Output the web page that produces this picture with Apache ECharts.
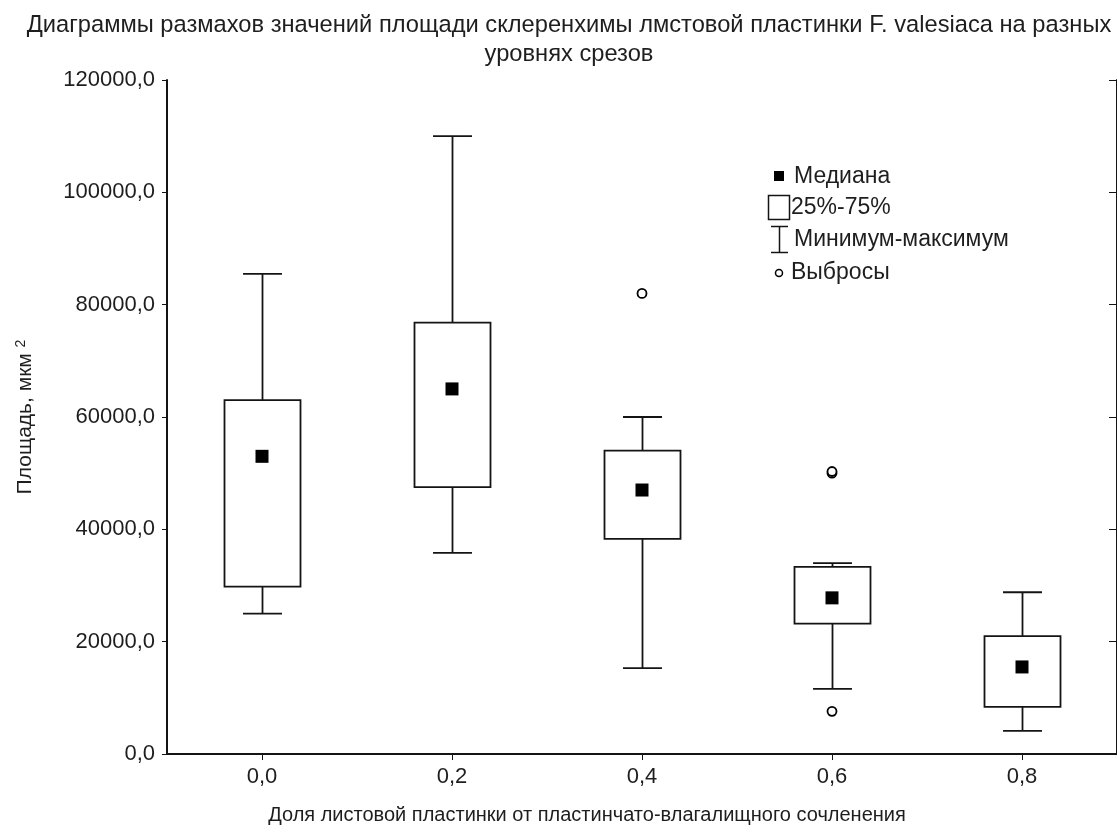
<!DOCTYPE html>
<html><head><meta charset="utf-8">
<script src="https://cdn.jsdelivr.net/npm/echarts@6/dist/echarts.min.js"></script>
<style>html,body{margin:0;padding:0;background:#fff}#c{width:1117px;height:834px}</style>
</head><body><div id="c"></div>
<script>
// ---- data ----
const categories = ['0,0', '0,2', '0,4', '0,6', '0,8'];
const minValues    = [25000, 35800, 15300, 11600, 4100];
const q1Values     = [29800, 47500, 38300, 23200, 8400];
const medianValues = [53000, 65000, 47000, 27800, 15500];
const q3Values     = [63000, 76800, 54000, 33300, 21000];
const maxValues    = [85500, 110000, 60000, 34000, 28800];
const outlierCats   = [2, 3, 3, 3];
const outlierValues = [82000, 50000, 50300, 7600];
const yMin = 0, yMax = 120000, yInterval = 20000;
const titleText = 'Диаграммы размахов значений площади склеренхимы лмстовой пластинки F. valesiaca на разных\nуровнях срезов';
const xName = 'Доля листовой пластинки от пластинчато-влагалищного сочленения';
const legendTexts = ['Медиана', '25%-75%', 'Минимум-максимум', 'Выбросы'];

const FONT = '"Liberation Sans", Arial, sans-serif';
const TXT = '#1e1e1e';
const LN = '#141414';

const boxData = categories.map((_, i) => [i, minValues[i], q1Values[i], medianValues[i], q3Values[i], maxValues[i]]);
const outlierData = outlierCats.map((c, i) => [c, outlierValues[i]]);

const chart = echarts.init(document.getElementById('c'), null, {renderer: 'canvas'});

function fmt(v) { return v.toFixed(1).replace('.', ','); }

const lineStyle = {stroke: LN, lineWidth: 1.8};

const option = {
  backgroundColor: '#fff',
  animation: false,
  grid: {left: 167, top: 80, width: 955, height: 674, containLabel: false},
  xAxis: [{
    type: 'category', data: categories, position: 'bottom', boundaryGap: true,
    axisLine: {show: true, lineStyle: {color: LN, width: 2}},
    axisTick: {show: true, alignWithLabel: true, length: 5, lineStyle: {color: LN, width: 1}},
    axisLabel: {fontSize: 22, color: TXT, fontFamily: FONT, margin: 12},
    splitLine: {show: false}
  }, {
    type: 'category', data: categories, position: 'top', boundaryGap: true,
    axisLine: {show: true, lineStyle: {color: LN, width: 2}},
    axisTick: {show: true, inside: true, alignWithLabel: true, length: 6, lineStyle: {color: LN, width: 1}},
    axisLabel: {show: false}, splitLine: {show: false}
  }],
  yAxis: [{
    type: 'value', min: yMin, max: yMax, interval: yInterval, position: 'left',
    axisLine: {show: true, lineStyle: {color: LN, width: 2}},
    axisTick: {show: true, length: 5, lineStyle: {color: LN, width: 1}},
    axisLabel: {fontSize: 22, color: TXT, fontFamily: FONT, margin: 12, formatter: fmt},
    splitLine: {show: false},
    name: 'Площадь, мкм {sup|2}', nameLocation: 'middle', nameRotate: 90, nameGap: 131,
    nameTextStyle: {fontSize: 21, color: TXT, fontFamily: FONT,
      rich: {sup: {fontSize: 14, color: TXT, fontFamily: FONT, verticalAlign: 'top', lineHeight: 22}}}
  }, {
    type: 'value', min: yMin, max: yMax, interval: yInterval, position: 'right',
    axisLine: {show: true, lineStyle: {color: LN, width: 2}},
    axisTick: {show: true, inside: true, length: 8, lineStyle: {color: LN, width: 1}},
    axisLabel: {show: false}, splitLine: {show: false}
  }],
  series: [{
    type: 'custom', xAxisIndex: 0, yAxisIndex: 0,
    data: boxData,
    encode: {x: 0, y: [1, 2, 3, 4, 5]},
    renderItem: function (params, api) {
      const c = api.value(0);
      const pMin = api.coord([c, api.value(1)]);
      const pQ1 = api.coord([c, api.value(2)]);
      const pQ3 = api.coord([c, api.value(4)]);
      const pMax = api.coord([c, api.value(5)]);
      const band = api.size([1, 0])[0];
      const bw = band * 0.4, cw = band * 0.205;
      const x = Math.round(pMin[0]) + 0.5;
      return {type: 'group', children: [
        {type: 'line', shape: {x1: x, y1: pQ3[1], x2: x, y2: pMax[1]}, style: lineStyle},
        {type: 'line', shape: {x1: x - cw / 2, y1: pMax[1], x2: x + cw / 2, y2: pMax[1]}, style: lineStyle},
        {type: 'line', shape: {x1: x, y1: pQ1[1], x2: x, y2: pMin[1]}, style: lineStyle},
        {type: 'line', shape: {x1: x - cw / 2, y1: pMin[1], x2: x + cw / 2, y2: pMin[1]}, style: lineStyle},
        {type: 'rect', shape: {x: x - bw / 2, y: pQ3[1], width: bw, height: pQ1[1] - pQ3[1]},
          style: {fill: '#fff', stroke: LN, lineWidth: 1.8}}
      ]};
    },
    z: 2
  }, {
    type: 'scatter', xAxisIndex: 0, yAxisIndex: 0,
    data: medianValues, symbol: 'rect', symbolSize: 13,
    itemStyle: {color: '#000', opacity: 1}, z: 3
  }, {
    type: 'scatter', xAxisIndex: 0, yAxisIndex: 0,
    data: outlierData, symbol: 'circle', symbolSize: 9,
    itemStyle: {color: '#fff', borderColor: '#000', borderWidth: 1.8, opacity: 1}, z: 3
  }],
  graphic: [
    {type: 'text', x: 569, y: 11, style: {text: titleText, textAlign: 'center', font: '23.7px ' + FONT, fill: TXT, lineHeight: 29}},
    {type: 'text', x: 587, y: 815, style: {text: xName, textAlign: 'center', textVerticalAlign: 'middle', font: '20px ' + FONT, fill: TXT}},
    // legend
    {type: 'rect', shape: {x: 774, y: 171, width: 10, height: 10}, style: {fill: '#000'}},
    {type: 'text', x: 794, y: 177, style: {text: legendTexts[0], textVerticalAlign: 'middle', font: '23px ' + FONT, fill: TXT}},
    {type: 'rect', shape: {x: 768.5, y: 195.5, width: 21, height: 24}, style: {fill: '#fff', stroke: LN, lineWidth: 1.5}},
    {type: 'text', x: 791, y: 208, style: {text: legendTexts[1], textVerticalAlign: 'middle', font: '23px ' + FONT, fill: TXT}},
    {type: 'line', shape: {x1: 779.5, y1: 226, x2: 779.5, y2: 252}, style: {stroke: LN, lineWidth: 1.5}},
    {type: 'line', shape: {x1: 771, y1: 226.5, x2: 788, y2: 226.5}, style: {stroke: LN, lineWidth: 1.5}},
    {type: 'line', shape: {x1: 771, y1: 252.5, x2: 788, y2: 252.5}, style: {stroke: LN, lineWidth: 1.5}},
    {type: 'text', x: 794, y: 240, style: {text: legendTexts[2], textVerticalAlign: 'middle', font: '23px ' + FONT, fill: TXT}},
    {type: 'circle', shape: {cx: 779, cy: 273, r: 3.5}, style: {fill: '#fff', stroke: '#000', lineWidth: 1.5}},
    {type: 'text', x: 791, y: 273, style: {text: legendTexts[3], textVerticalAlign: 'middle', font: '23px ' + FONT, fill: TXT}}
  ]
};
chart.setOption(option);
</script>
</body></html>
